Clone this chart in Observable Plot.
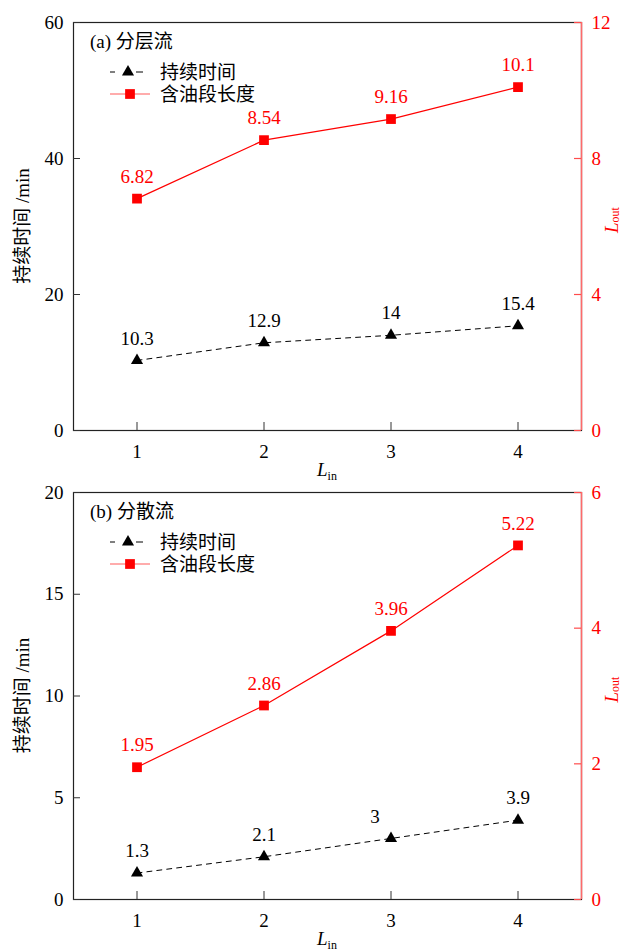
<!DOCTYPE html>
<html><head><meta charset="utf-8">
<script src="https://cdn.jsdelivr.net/npm/d3@7"></script>
<script src="https://cdn.jsdelivr.net/npm/@observablehq/plot@0.6"></script>
<style>
body{margin:0;background:#fff;}
#chart{width:624px;background:#fff;}
#chart svg{display:block;overflow:visible;background:transparent !important;font-family:"Liberation Serif","Noto Sans CJK SC",serif !important;}
#chart svg text, #chart svg tspan, #chart svg g{font-family:"Liberation Serif","Noto Sans CJK SC",serif !important;}
</style></head><body><div id="chart"></div>
<script>
// ---- data ----
const L_in = [1, 2, 3, 4];
const durationA = [10.3, 12.9, 14, 15.4];
const loutA = [6.82, 8.54, 9.16, 10.1];
const durationB = [1.3, 2.1, 3, 3.9];
const loutB = [1.95, 2.86, 3.96, 5.22];
const leftTicksA = [0, 20, 40, 60];
const rightTicksA = [0, 4, 8, 12];
const leftTicksB = [0, 5, 10, 15, 20];
const rightTicksB = [0, 2, 4, 6];
const titles = ["(a) 分层流", "(b) 分散流"];
const legendLabels = ["持续时间", "含油段长度"];
const yLabel = "持续时间 /min";

const FONT = '"Liberation Serif","Noto Sans CJK SC",serif';

function panel({title, dur, lout, yMax, rMax, yTicks, rTicks, height, marginTop, marginBottom, shiftIdx}) {
  const k = yMax / rMax;
  const data = L_in.map((x, i) => ({x, dur: dur[i], lout: lout[i], loutS: lout[i] * k, i}));
  const marginLeft = 73, marginRight = 43;
  const plotW = 624 - marginLeft - marginRight;
  const plotH = height - marginTop - marginBottom;
  const xDomain = [0.5, 4.5];
  const svg = Plot.plot({
    width: 624, height, marginTop, marginBottom, marginLeft, marginRight,
    style: {fontFamily: FONT, fontSize: "19px", color: "black", background: "transparent", overflow: "visible"},
    x: {domain: xDomain},
    y: {domain: [0, yMax]},
    marks: [
      Plot.frame({stroke: "#222", strokeWidth: 1.2}),
      Plot.ruleX([xDomain[1]], {stroke: "#ff6a6a", strokeWidth: 1.5}),
      // inward ticks
      Plot.tickY(yTicks, {y: d => d, stroke: "#333", insetRight: plotW - 7}),
      Plot.tickY(rTicks.map(v => v * k), {y: d => d, stroke: "#ff4d4d", strokeWidth: 1.2, insetLeft: plotW - 7}),
      Plot.tickX(L_in, {x: d => d, stroke: "#333", insetTop: plotH - 8}),
      Plot.axisY({ticks: yTicks, tickSize: 0, tickPadding: 10, label: null, fill: "black", fontFamily: FONT, fontSize: 19}),
      Plot.axisY({anchor: "right", ticks: rTicks.map(v => v * k), tickFormat: d => String(Math.round(d / k)),
        tickSize: 0, tickPadding: 10, label: null, fill: "red", fontFamily: FONT, fontSize: 19}),
      Plot.axisX({ticks: L_in, tickFormat: d => String(d), tickSize: 0, tickPadding: 14, label: null, fill: "black", fontFamily: FONT, fontSize: 19}),
      Plot.line(data, {x: "x", y: "dur", stroke: "black", strokeWidth: 1, strokeDasharray: "5,5"}),
      Plot.line(data, {x: "x", y: "loutS", stroke: "red", strokeWidth: 1.2}),
      Plot.dot(data, {x: "x", y: "dur", symbol: "triangle", fill: "black", r: 4.5}),
      Plot.dot(data, {x: "x", y: "loutS", symbol: "square", fill: "red", r: 5.5}),
      Plot.text(data.filter(d => d.i !== shiftIdx), {x: "x", y: "dur", text: d => String(d.dur), dy: -22, fill: "black", fontSize: 19, fontFamily: FONT}),
      Plot.text(data.filter(d => d.i === shiftIdx), {x: "x", y: "dur", text: d => String(d.dur), dy: -22, dx: -16, fill: "black", fontSize: 19, fontFamily: FONT}),
      Plot.text(data, {x: "x", y: "loutS", text: d => String(d.lout), dy: -22, fill: "red", fontSize: 19, fontFamily: FONT})
    ]
  });
  const s = d3.select(svg);
  const plotTop = marginTop, plotBottom = height - marginBottom;
  const plotLeft = marginLeft, plotRight = 624 - marginRight;
  const cy = (plotTop + plotBottom) / 2, cx = (plotLeft + plotRight) / 2;

  // x label L_in
  const xl = s.append("text").attr("x", cx).attr("y", plotBottom + 46)
    .attr("text-anchor", "middle").style("font-size", "19px");
  xl.append("tspan").attr("font-style", "italic").text("L");
  xl.append("tspan").attr("font-size", "12px").attr("dy", "4").text("in");

  // left y label
  s.append("text").attr("transform", `translate(22,${cy}) rotate(-90)`)
    .attr("text-anchor", "middle").attr("dominant-baseline", "central")
    .style("font-size", "19px").text(yLabel);

  // right y label L_out
  const rl = s.append("text").attr("transform", `translate(${plotRight + 30},${cy - 6}) rotate(-90)`)
    .attr("text-anchor", "middle").attr("dominant-baseline", "central")
    .attr("fill", "red").style("font-size", "19px");
  rl.append("tspan").attr("font-style", "italic").text("L");
  rl.append("tspan").attr("font-size", "12px").attr("dy", "4").text("out");

  // title
  s.append("text").attr("x", plotLeft + 17).attr("y", plotTop + 19).attr("text-anchor", "start")
    .attr("dominant-baseline", "central").style("font-size", "19px").text(title);

  // legend
  const lx = plotLeft + 37, ly1 = plotTop + 50, ly2 = plotTop + 72;
  s.append("line").attr("x1", lx).attr("x2", lx + 33).attr("y1", ly1).attr("y2", ly1)
    .attr("stroke", "black").attr("stroke-dasharray", "5,21,7,100");
  s.append("path").attr("d", d3.symbol(d3.symbolTriangle, Math.PI * 4.5 * 4.5)())
    .attr("transform", `translate(${lx + 18},${ly1})`).attr("fill", "black");
  s.append("text").attr("x", lx + 50).attr("y", ly1).attr("text-anchor", "start").attr("dominant-baseline", "central")
    .style("font-size", "19px").text(legendLabels[0]);
  s.append("line").attr("x1", lx).attr("x2", lx + 40).attr("y1", ly2).attr("y2", ly2)
    .attr("stroke", "#ff5a5a").attr("stroke-width", 1.2);
  s.append("path").attr("d", d3.symbol(d3.symbolSquare, Math.PI * 5.5 * 5.5)())
    .attr("transform", `translate(${lx + 20},${ly2})`).attr("fill", "red");
  s.append("text").attr("x", lx + 50).attr("y", ly2).attr("text-anchor", "start").attr("dominant-baseline", "central")
    .style("font-size", "19px").text(legendLabels[1]);
  return svg;
}

const chart = document.getElementById("chart");
chart.append(panel({title: titles[0], dur: durationA, lout: loutA, yMax: 60, rMax: 12,
  yTicks: leftTicksA, rTicks: rightTicksA, height: 478, marginTop: 22, marginBottom: 48, shiftIdx: -1}));
chart.append(panel({title: titles[1], dur: durationB, lout: loutB, yMax: 20, rMax: 6,
  yTicks: leftTicksB, rTicks: rightTicksB, height: 472, marginTop: 14, marginBottom: 51, shiftIdx: 2}));
</script>
</body></html>
